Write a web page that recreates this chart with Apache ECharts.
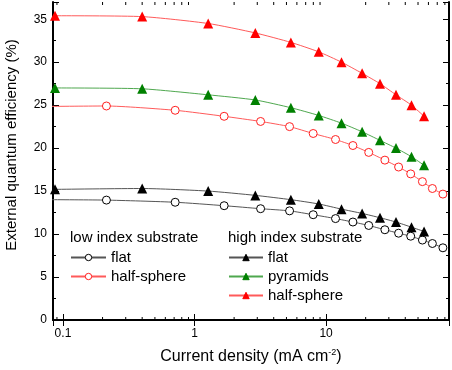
<!DOCTYPE html>
<html><head><meta charset="utf-8">
<script src="https://cdn.jsdelivr.net/npm/echarts@6/dist/echarts.min.js"></script>
<style>html,body{margin:0;padding:0;background:#fff}#c{width:452px;height:370px}</style>
</head><body><div id="c"></div>
<script>
// ---- data ----
const xTickLabels = ['0.1', '1', '10'];
const xMinorTicks = [0.09, 0.2, 0.3, 0.4, 0.5, 0.6, 0.7, 0.8, 0.9, 2, 3, 4, 5, 6, 7, 8, 9, 20, 30, 40, 50, 60, 70, 80];

const lowX      = [0.08, 0.214, 0.713, 1.68, 3.18, 5.28, 7.98, 11.8, 16.0, 21.1, 28.0, 35.6, 44.0, 54.0, 64.3, 77.3];
const lowFlatY  = [14.0, 13.95, 13.7, 13.3, 12.95, 12.7, 12.25, 11.8, 11.4, 11.0, 10.5, 10.1, 9.75, 9.3, 8.9, 8.4];
const lowHalfY  = [24.85, 24.9, 24.4, 23.7, 23.1, 22.5, 21.7, 21.0, 20.3, 19.5, 18.6, 17.8, 17.0, 16.1, 15.3, 14.65];

const highX     = [0.087, 0.40, 1.27, 2.9, 5.4, 8.8, 13.1, 18.8, 25.7, 34.0, 44.6, 55.6];
const highFlatY = [15.2, 15.3, 15.0, 14.5, 14.0, 13.5, 12.9, 12.4, 11.9, 11.4, 10.8, 10.3];
const pyramidsY = [27.0, 26.9, 26.2, 25.6, 24.7, 23.8, 22.9, 21.9, 20.9, 20.0, 19.0, 18.0];
const highHalfY = [35.4, 35.3, 34.5, 33.4, 32.3, 31.2, 30.0, 28.7, 27.5, 26.2, 25.0, 23.7];

const legendLabels = {lowFlat: 'flat', lowHalf: 'half-sphere', highFlat: 'flat', pyramids: 'pyramids', highHalf: 'half-sphere'};

// ---- chart ----
const FONT = '"Liberation Sans", Arial, Helvetica, sans-serif';
const chart = echarts.init(document.getElementById('c'), null, {renderer: 'canvas'});
const pairs = (xs, ys) => xs.map((x, i) => [x, ys[i]]);

function lineSeries(name, xs, ys, sym, color, lineColor, hollow) {
  return {
    type: 'line', name: name, data: pairs(xs, ys), smooth: 0.2,
    symbol: sym, symbolSize: hollow ? 8 : 10,
    showAllSymbol: true,
    itemStyle: {color: hollow ? '#fff' : color, borderColor: color, borderWidth: hollow ? 1 : 0},
    lineStyle: {color: lineColor, width: 1},
    emphasis: {disabled: true},
    z: 3
  };
}

const axisFont = {color: '#000', fontFamily: FONT};

const legendCommon = {
  orient: 'vertical', top: 248, padding: 0, itemHeight: 8, itemGap: 0, selectedMode: false,
  itemStyle: {borderWidth: 1},
  formatter: n => legendLabels[n]
};

const option = {
  animation: false,
  backgroundColor: '#fff',
  grid: {left: 53, right: 1, top: 2, bottom: 49, containLabel: false},
  xAxis: [{
    type: 'log', logBase: 10, min: 0.084, max: 86, position: 'bottom',
    axisLine: {lineStyle: {color: '#000', width: 2}},
    axisTick: {inside: true, length: 6, lineStyle: {color: '#000', width: 1}},
    axisLabel: Object.assign({fontSize: 12, margin: 8,
      formatter: v => { const s = String(+(+v).toPrecision(6)); return xTickLabels.includes(s) ? s : ''; }}, axisFont),
    splitLine: {show: false},
    name: 'Current density (mA cm{sup|-2})', nameLocation: 'middle', nameGap: 28,
    nameTextStyle: Object.assign({fontSize: 16, rich: {sup: {fontSize: 9, fontFamily: FONT, color: '#000', padding: [0, 0, 9, 0]}}}, axisFont)
  }, {
    type: 'log', logBase: 10, min: 0.084, max: 86, position: 'top',
    axisLine: {lineStyle: {color: '#000', width: 2}},
    axisTick: {inside: true, length: 6, lineStyle: {color: '#000', width: 1}},
    axisLabel: {show: false}, splitLine: {show: false}
  }],
  yAxis: [{
    type: 'value', min: 0, max: 37, interval: 5, position: 'left',
    axisLine: {show: true, lineStyle: {color: '#000', width: 2}},
    axisTick: {show: true, inside: true, length: 6, lineStyle: {color: '#000', width: 1}},
    minorTick: {show: true, splitNumber: 2, length: 3, lineStyle: {color: '#000', width: 1}},
    axisLabel: Object.assign({fontSize: 12, margin: 6, showMaxLabel: false}, axisFont),
    splitLine: {show: false}
  }, {
    type: 'value', min: 0, max: 37, interval: 5, position: 'right',
    axisLine: {show: true, lineStyle: {color: '#000', width: 2}},
    axisTick: {show: true, inside: true, length: 6, lineStyle: {color: '#000', width: 1}},
    minorTick: {show: true, splitNumber: 2, length: 3, lineStyle: {color: '#000', width: 1}},
    axisLabel: {show: false}, splitLine: {show: false}
  }],
  legend: [Object.assign({
    data: ['lowFlat', 'lowHalf'], left: 70, itemWidth: 35,
    textStyle: {fontSize: 15, lineHeight: 19, color: '#000', fontFamily: FONT}
  }, legendCommon), Object.assign({
    data: ['highFlat', 'pyramids', 'highHalf'], left: 228, itemWidth: 34,
    textStyle: {fontSize: 15, lineHeight: 19, color: '#000', fontFamily: FONT}
  }, legendCommon)],
  graphic: [
    {type: 'text', left: 70, top: 230, style: {text: 'low index substrate', font: '15px ' + FONT, fill: '#000'}},
    {type: 'text', left: 228, top: 230, style: {text: 'high index substrate', font: '15px ' + FONT, fill: '#000'}},
    {type: 'text', x: 12, y: 145, rotation: Math.PI / 2,
      style: {text: 'External quantum efficiency (%)', font: '15px ' + FONT, fill: '#000', align: 'center', verticalAlign: 'middle'}}
  ],
  series: [
    lineSeries('lowFlat', lowX, lowFlatY, 'circle', '#000', '#555', true),
    lineSeries('lowHalf', lowX, lowHalfY, 'circle', '#ff2020', '#ff5a5a', true),
    lineSeries('highFlat', highX, highFlatY, 'triangle', '#000', '#555', false),
    lineSeries('pyramids', highX, pyramidsY, 'triangle', '#008000', '#4fa84f', false),
    lineSeries('highHalf', highX, highHalfY, 'triangle', '#ff0000', '#ff5a5a', false),
    {
      type: 'custom', name: 'minorTicks', silent: true,
      data: xMinorTicks.map(v => [v, 0]),
      renderItem: (params, api) => {
        const b = api.coord([api.value(0), 0]);
        const t = api.coord([api.value(0), 37]);
        return {type: 'group', children: [
          {type: 'line', shape: {x1: b[0], y1: b[1], x2: b[0], y2: b[1] - 3}, style: {stroke: '#000', lineWidth: 1}},
          {type: 'line', shape: {x1: t[0], y1: t[1], x2: t[0], y2: t[1] + 3}, style: {stroke: '#000', lineWidth: 1}}
        ]};
      },
      z: 5
    }
  ]
};
chart.setOption(option);
</script>
</body></html>
